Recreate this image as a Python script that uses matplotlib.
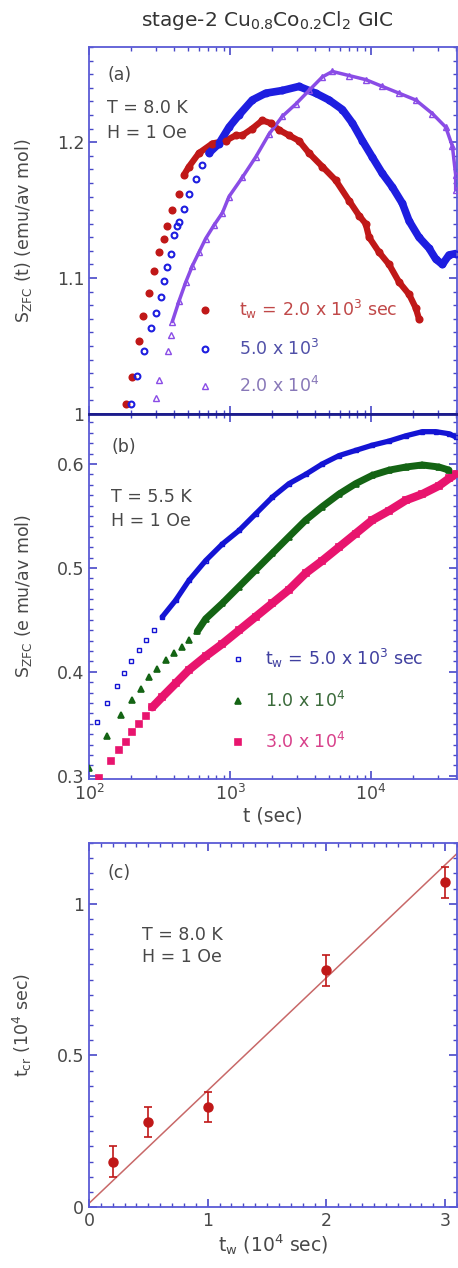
import numpy as np
import matplotlib
matplotlib.use("Agg")
import matplotlib.pyplot as plt
from matplotlib.ticker import MultipleLocator, LogLocator, NullFormatter

plt.rcParams['font.family'] = ['DejaVu Sans']
plt.rcParams['mathtext.fontset'] = 'dejavusans'

# ---------------- Panel (a) data: T = 8.0 K ----------------
a_tw2e3_log10t = [2.26, 2.307, 2.355, 2.383, 2.426, 2.461, 2.496, 2.532, 2.556, 2.591,
                  2.638, 2.674, 2.709, 2.78, 2.875, 2.969, 3.04, 3.087, 3.158, 3.229,
                  3.288, 3.348, 3.418, 3.489, 3.56, 3.655, 3.749, 3.844, 3.915, 3.962,
                  3.986, 4.057, 4.128, 4.199, 4.27, 4.317, 4.34]
a_tw2e3_S = [1.007, 1.027, 1.054, 1.072, 1.089, 1.105, 1.119, 1.129, 1.138, 1.150,
             1.162, 1.176, 1.182, 1.192, 1.199, 1.201, 1.205, 1.205, 1.210, 1.216,
             1.214, 1.209, 1.205, 1.201, 1.192, 1.182, 1.172, 1.157, 1.146, 1.140,
             1.130, 1.119, 1.110, 1.097, 1.088, 1.078, 1.070]
a_tw5e3_log10t = [2.296, 2.343, 2.39, 2.437, 2.473, 2.508, 2.532, 2.556, 2.579, 2.603,
                  2.626, 2.638, 2.674, 2.709, 2.757, 2.804, 2.851, 2.922, 2.993, 3.064,
                  3.158, 3.253, 3.371, 3.489, 3.608, 3.702, 3.797, 3.868, 3.939, 4.009,
                  4.08, 4.151, 4.222, 4.27, 4.34, 4.411, 4.459, 4.506, 4.553, 4.6]
a_tw5e3_S = [1.007, 1.028, 1.046, 1.063, 1.074, 1.086, 1.098, 1.108, 1.118, 1.132,
             1.138, 1.141, 1.151, 1.162, 1.173, 1.183, 1.192, 1.199, 1.211, 1.220,
             1.231, 1.236, 1.238, 1.241, 1.236, 1.231, 1.224, 1.214, 1.201, 1.189,
             1.177, 1.167, 1.155, 1.142, 1.130, 1.122, 1.114, 1.110, 1.117, 1.118]
a_tw2e4_log10t = [2.473, 2.496, 2.56, 2.579, 2.591, 2.638, 2.686, 2.733, 2.78, 2.827,
                  2.887, 2.946, 2.993, 3.087, 3.182, 3.277, 3.371, 3.466, 3.56, 3.655,
                  3.726, 3.844, 3.962, 4.08, 4.199, 4.317, 4.435, 4.53, 4.577, 4.6, 4.6]
a_tw2e4_S = [1.012, 1.025, 1.046, 1.058, 1.068, 1.083, 1.097, 1.109, 1.119, 1.129,
             1.139, 1.148, 1.160, 1.174, 1.189, 1.206, 1.219, 1.228, 1.238, 1.248,
             1.252, 1.249, 1.246, 1.241, 1.236, 1.231, 1.221, 1.211, 1.197, 1.176, 1.165]
a_labels = [r"$\mathregular{t_w}$ = 2.0 x 10$\mathregular{^3}$ sec",
            r"5.0 x 10$\mathregular{^3}$", r"2.0 x 10$\mathregular{^4}$"]

# ---------------- Panel (b) data: T = 5.5 K ----------------
b_tw5e3_log10t = [2.059, 2.13, 2.20, 2.248, 2.296, 2.355, 2.402, 2.461, 2.52,
                  2.615, 2.709, 2.827, 2.946, 3.064, 3.182, 3.3, 3.418, 3.537, 3.655,
                  3.773, 3.891, 4.009, 4.128, 4.246, 4.364, 4.459, 4.553, 4.6]
b_tw5e3_S = [0.352, 0.370, 0.386, 0.399, 0.410, 0.421, 0.431, 0.440, 0.453,
             0.469, 0.488, 0.507, 0.523, 0.536, 0.552, 0.568, 0.581, 0.590, 0.600,
             0.608, 0.613, 0.618, 0.622, 0.627, 0.631, 0.631, 0.629, 0.626]
b_tw1e4_log10t = [2.0, 2.13, 2.225, 2.307, 2.366, 2.426, 2.485, 2.544, 2.603, 2.662,
                  2.709, 2.768, 2.827, 2.946, 3.064, 3.182, 3.3, 3.418, 3.537, 3.655,
                  3.773, 3.891, 4.009, 4.128, 4.246, 4.364, 4.482, 4.553]
b_tw1e4_S = [0.308, 0.338, 0.359, 0.373, 0.384, 0.395, 0.403, 0.411, 0.418, 0.424,
             0.431, 0.439, 0.451, 0.466, 0.482, 0.498, 0.514, 0.530, 0.546, 0.559,
             0.571, 0.581, 0.589, 0.594, 0.597, 0.599, 0.597, 0.594]
b_tw3e4_log10t = [2.071, 2.154, 2.213, 2.26, 2.307, 2.355, 2.402, 2.449, 2.52, 2.615,
                  2.709, 2.827, 2.946, 3.064, 3.182, 3.3, 3.418, 3.537, 3.655, 3.773,
                  3.891, 4.009, 4.128, 4.246, 4.364, 4.482, 4.553, 4.6]
b_tw3e4_S = [0.298, 0.314, 0.325, 0.333, 0.342, 0.350, 0.358, 0.366, 0.376, 0.389,
             0.402, 0.415, 0.427, 0.440, 0.453, 0.466, 0.479, 0.495, 0.507, 0.520,
             0.533, 0.546, 0.555, 0.565, 0.571, 0.579, 0.586, 0.590]
b_labels = [r"$\mathregular{t_w}$ = 5.0 x 10$\mathregular{^3}$ sec",
            r"1.0 x 10$\mathregular{^4}$", r"3.0 x 10$\mathregular{^4}$"]

# ---------------- Panel (c) data ----------------
c_tw = [0.2, 0.5, 1.0, 2.0, 3.0]
c_tcr = [0.15, 0.28, 0.33, 0.78, 1.07]
c_err = [0.05, 0.05, 0.05, 0.05, 0.05]
c_fit_slope = 0.372
c_fit_intercept = 0.012

# ---------------- styling ----------------
SPINE = '#5a5ad6'
TICKC = '#4848c8'
LABC = '#484848'
FS = 12.5      # tick labels / annotations / legends
LFS = 12.5     # axis labels

fig = plt.figure(figsize=(4.58, 12.68), dpi=100)
L, W = 89 / 458, 368 / 458
axa = fig.add_axes([L, 1 - 414 / 1268, W, 367 / 1268])
axb = fig.add_axes([L, 1 - 779 / 1268, W, 365 / 1268])
axc = fig.add_axes([L, 1 - 1207 / 1268, W, 364 / 1268])


def style(ax):
    for s in ax.spines.values():
        s.set_color(SPINE)
        s.set_linewidth(1.3)
    ax.tick_params(which='both', direction='in', top=True, right=True,
                   color=TICKC, labelcolor=LABC, labelsize=FS)
    ax.tick_params(which='major', length=6, width=1.2)
    ax.tick_params(which='minor', length=3, width=1.0)


def series(ax, logt, S, nsparse, color, marker, ms, mfc, lw_dense, mew=1.2):
    t = 10 ** np.asarray(logt)
    S = np.asarray(S)
    ax.plot(t[nsparse - 1:], S[nsparse - 1:], '-', color=color, lw=lw_dense,
            solid_capstyle='round', zorder=2)
    h, = ax.plot(t, S, linestyle='none', marker=marker, ms=ms, mfc=mfc,
                 mec=color, mew=mew, color=color, zorder=3)
    return h


def note(ax, x, y, s):
    ax.text(x, y, s, transform=ax.transAxes, fontsize=FS, color=LABC,
            ha='left', va='center')

# ---- panel (a)
style(axa)
axa.set_xscale('log')
axa.set_xlim(100, 4.07e4)
axa.set_ylim(1.0, 1.27)
axa.set_yticks([1.0, 1.1, 1.2])
axa.set_yticklabels(['1', '1.1', '1.2'])
axa.yaxis.set_minor_locator(MultipleLocator(0.01))
axa.xaxis.set_major_locator(LogLocator(base=10))
axa.xaxis.set_minor_locator(LogLocator(base=10, subs=np.arange(2, 10)))
axa.xaxis.set_minor_formatter(NullFormatter())
axa.tick_params(axis='x', labelbottom=False)
axa.spines['bottom'].set_color('#1c1c8c')
axa.spines['bottom'].set_linewidth(2)

ha1 = series(axa, a_tw2e3_log10t, a_tw2e3_S, 12, '#c01818', 'o', 4.6, '#c01818', 4.5)
ha2 = series(axa, a_tw5e3_log10t, a_tw5e3_S, 17, '#1e1ee0', 'o', 4.2, 'none', 5.5, mew=1.5)
ha3 = series(axa, a_tw2e4_log10t, a_tw2e4_S, 5, '#8a4ce6', '^', 4.0, 'none', 2.5, mew=1.0)

axa.set_ylabel(r"S$\mathregular{_{ZFC}}$ (t) (emu/av mol)", fontsize=LFS, color=LABC)
axa.yaxis.set_label_coords(-0.15, 0.5)
note(axa, 0.05, 0.924, "(a)")
note(axa, 0.05, 0.834, "T = 8.0 K")
note(axa, 0.05, 0.766, "H = 1 Oe")
lega = axa.legend([ha1, ha2, ha3], a_labels, loc='lower left',
                  bbox_to_anchor=(0.262, 0.02), frameon=False, fontsize=FS,
                  handlelength=1.0, handletextpad=1.5, labelspacing=1.0,
                  numpoints=1, borderaxespad=0.2)
for txt, c in zip(lega.get_texts(), ['#c04848', '#5050a8', '#8878b8']):
    txt.set_color(c)

# ---- panel (b)
style(axb)
axb.set_xscale('log')
axb.set_xlim(100, 4.07e4)
axb.set_ylim(0.297, 0.648)
axb.set_yticks([0.3, 0.4, 0.5, 0.6])
axb.yaxis.set_minor_locator(MultipleLocator(0.01))
axb.xaxis.set_major_locator(LogLocator(base=10))
axb.xaxis.set_minor_locator(LogLocator(base=10, subs=np.arange(2, 10)))
axb.xaxis.set_minor_formatter(NullFormatter())
axb.spines['top'].set_color('#1c1c8c')
axb.spines['top'].set_linewidth(2)

hb1 = series(axb, b_tw5e3_log10t, b_tw5e3_S, 9, '#1414d4', 's', 3.2, 'none', 3.8, mew=1.0)
hb2 = series(axb, b_tw1e4_log10t, b_tw1e4_S, 12, '#146414', '^', 4.2, '#146414', 5.0)
hb3 = series(axb, b_tw3e4_log10t, b_tw3e4_S, 8, '#e8146e', 's', 4.6, '#e8146e', 6.0)

axb.set_ylabel(r"S$\mathregular{_{ZFC}}$ (e mu/av mol)", fontsize=LFS, color=LABC)
axb.yaxis.set_label_coords(-0.15, 0.5)
axb.set_xlabel("t (sec)", fontsize=13.5, color=LABC, labelpad=2)
note(axb, 0.06, 0.91, "(b)")
note(axb, 0.06, 0.773, "T = 5.5 K")
note(axb, 0.06, 0.707, "H = 1 Oe")
legb = axb.legend([hb1, hb2, hb3], b_labels, loc='lower left',
                  bbox_to_anchor=(0.352, 0.045), frameon=False, fontsize=FS,
                  handlelength=1.0, handletextpad=1.1, labelspacing=1.2,
                  numpoints=1, borderaxespad=0.2)
for txt, c in zip(legb.get_texts(), ['#4040a0', '#3a6a3a', '#d8408a']):
    txt.set_color(c)

# ---- panel (c)
style(axc)
axc.set_xlim(0, 3.1)
axc.set_ylim(0, 1.2)
axc.set_xticks([0, 1, 2, 3])
axc.set_yticks([0, 0.5, 1])
axc.set_yticklabels(['0', '0.5', '1'])
axc.xaxis.set_minor_locator(MultipleLocator(0.1))
axc.yaxis.set_minor_locator(MultipleLocator(0.05))
axc.axline((0, c_fit_intercept), slope=c_fit_slope, color='#c86868', lw=1.1, zorder=2)
axc.errorbar(c_tw, c_tcr, yerr=c_err, fmt='o', color='#c01818', ms=6.5,
             ecolor='#c01818', elinewidth=1.2, capsize=3, capthick=1.2, zorder=3)
axc.set_ylabel(r"t$\mathregular{_{cr}}$ (10$\mathregular{^4}$ sec)", fontsize=LFS, color=LABC)
axc.yaxis.set_label_coords(-0.15, 0.5)
axc.set_xlabel(r"t$\mathregular{_w}$ (10$\mathregular{^4}$ sec)", fontsize=13.5, color=LABC, labelpad=2)
note(axc, 0.05, 0.918, "(c)")
note(axc, 0.144, 0.747, "T = 8.0 K")
note(axc, 0.144, 0.687, "H = 1 Oe")

fig.text(0.585, 1 - 21 / 1268,
         r"stage-2 Cu$\mathregular{_{0.8}}$Co$\mathregular{_{0.2}}$Cl$\mathregular{_2}$ GIC",
         ha='center', va='center', fontsize=14.5, color='#333333')

fig.savefig("out.png", dpi=100)
